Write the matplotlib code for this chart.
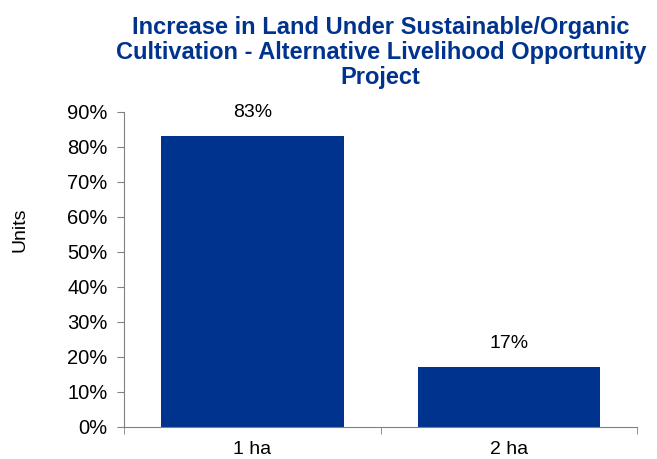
import matplotlib.pyplot as plt
from matplotlib.ticker import PercentFormatter

categories = ["1 ha", "2 ha"]
shares = [83, 17]
yticks = [0, 10, 20, 30, 40, 50, 60, 70, 80, 90]

plt.rcParams['font.family'] = ['Liberation Sans', 'DejaVu Sans']

fig = plt.figure(figsize=(6.57, 4.59), dpi=100)
ax = fig.add_axes([0.189, 0.070, 0.781, 0.686])

x = range(len(categories))
bars = ax.bar(x, shares, width=0.71, color="#00338D")

for b, v in zip(bars, shares):
    ax.text(b.get_x() + b.get_width() / 2, v + 4.3, f"{v}%",
            ha="center", va="bottom", fontsize=14)

ax.set_xlim(-0.5, len(categories) - 0.5)
ax.set_ylim(0, 90)
ax.set_yticks(yticks)
ax.yaxis.set_major_formatter(PercentFormatter(decimals=0))
ax.set_xticks(list(x))
ax.set_xticklabels(categories)
ax.set_xticks([i - 0.5 for i in range(len(categories) + 1)], minor=True)
ax.tick_params(axis="x", which="major", length=0, labelsize=14, pad=10)
ax.tick_params(axis="x", which="minor", length=5, direction="out", color="#808080")
ax.tick_params(axis="y", length=5, direction="out", labelsize=14.5, color="#808080", pad=7)

for s in ["top", "right"]:
    ax.spines[s].set_visible(False)
for s in ["left", "bottom"]:
    ax.spines[s].set_color("#808080")

ax.set_ylabel("Units", fontsize=14)
ax.yaxis.set_label_coords(-0.186, 0.625)
ax.set_title("Increase in Land Under Sustainable/Organic\nCultivation - Alternative Livelihood Opportunity\nProject",
             fontsize=17, fontweight="bold", color="#00338D", pad=20, linespacing=1.13)

fig.savefig("out.png", dpi=100)
